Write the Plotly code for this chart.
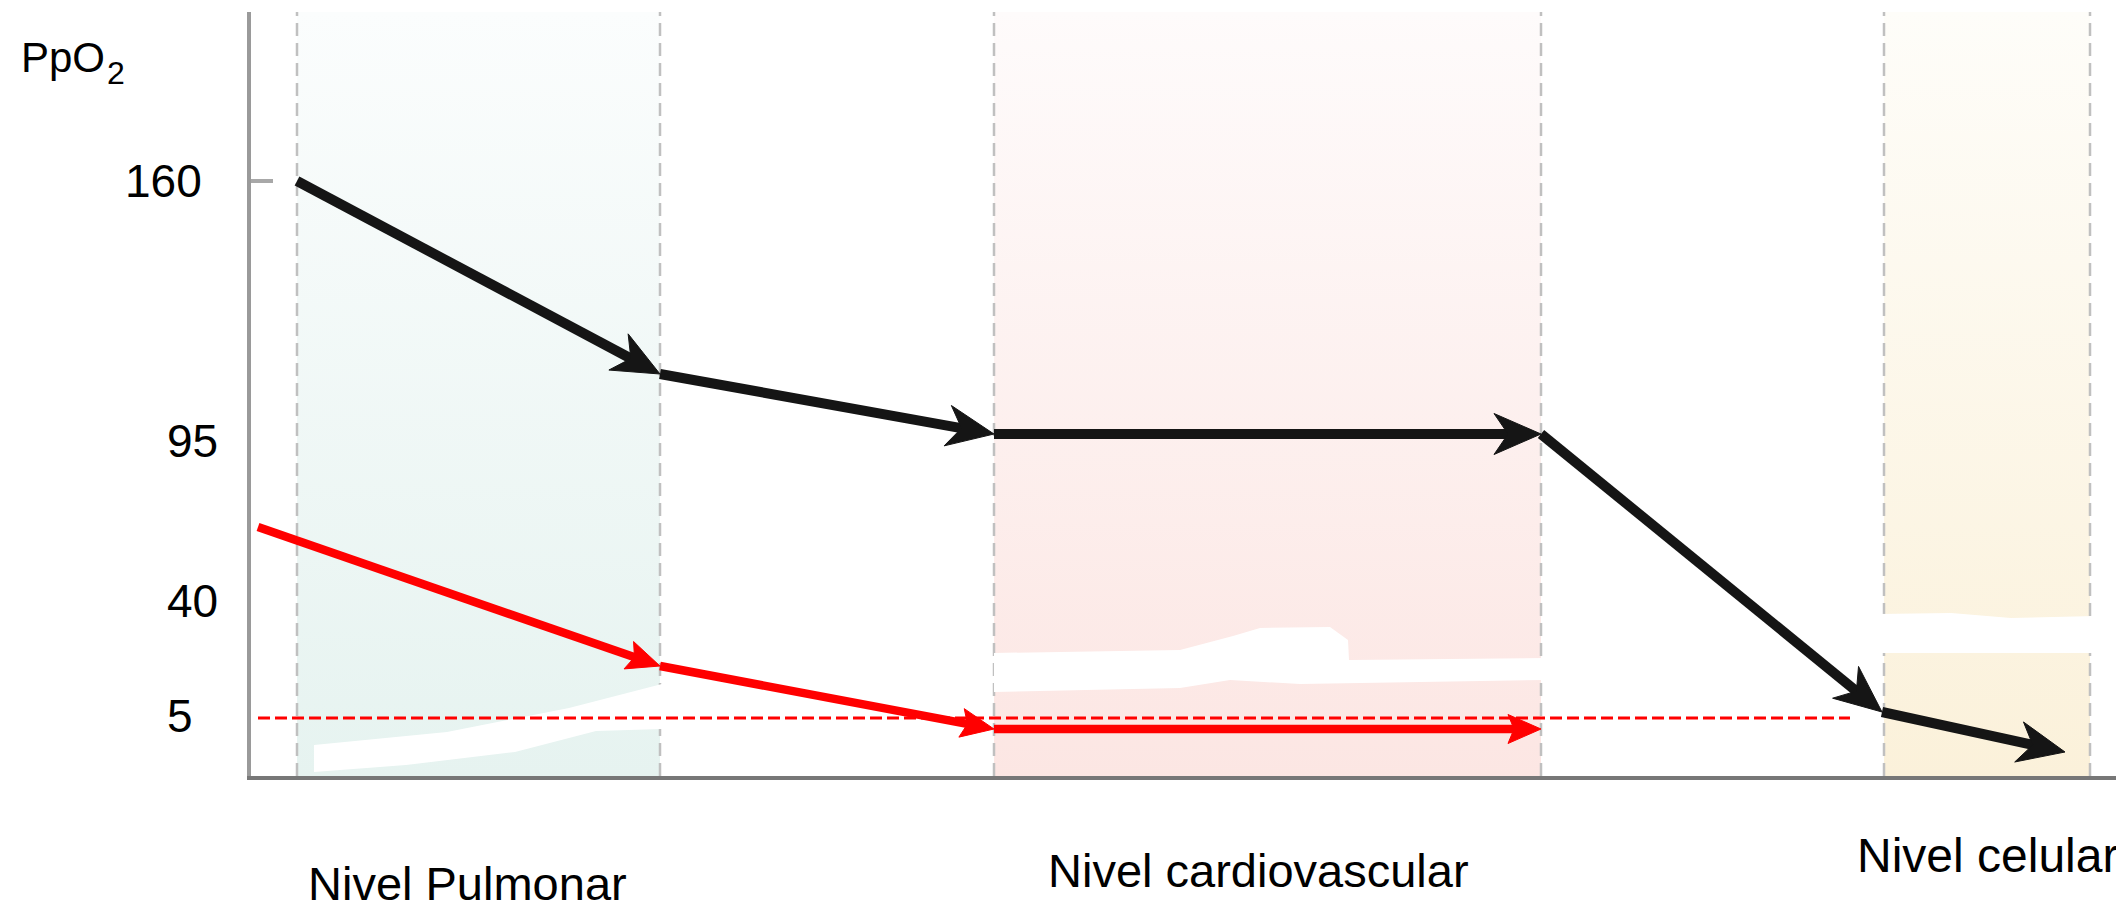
import math
import plotly.graph_objects as go

# ---------------- data (schematic diagram units) ----------------
categories = ["Nivel Pulmonar", "Nivel cardiovascular", "Nivel celular"]
band_start = [46, 743, 1633]
band_end = [409, 1290, 1839]

ppo2_labels = ["160", "95", "40", "5"]
ppo2_levels = [595, 335, 175, 60]

# black path (PpO2 of O2 along the cascade)
black_x = [46, 409, 743, 1290, 1631, 1814]
black_y = [595, 402, 342, 342, 64, 24]

# red path
red_x = [7, 409, 743, 1290]
red_y = [249, 110, 47, 47]

# red dashed reference level
ref_level = 58
ref_x = [7, 1599]

# ---------------- layout constants ----------------
# the page body has an 8px default margin, so the figure is 8px smaller
OFF = 8
W, H = 2124 - OFF, 910 - OFF
ML, MR, MT, MB = 251 - OFF, 0, 12 - OFF, 134
XR = W - ML - MR          # 1 x unit == 1 px
YR = H - MT - MB          # 1 y unit == 1 px
FONT = "Liberation Sans, Arial, sans-serif"

band_colors = [("#e6f3f0", "#fbfdfd"), ("#fce6e3", "#fefbfb"), ("#fbf1da", "#fefdf9")]

fig = go.Figure()

# bands with vertical gradient
for s, e, (cb, ct) in zip(band_start, band_end, band_colors):
    fig.add_trace(go.Scatter(
        x=[s, e, e, s, s], y=[0, 0, YR, YR, 0], mode="lines", fill="toself",
        line=dict(width=0), fillcolor=cb,
        fillgradient=dict(type="vertical", colorscale=[[0, cb], [1, ct]], start=0, stop=YR),
        hoverinfo="skip", showlegend=False))

# dashed gray band edges
for xv in band_start + band_end:
    fig.add_trace(go.Scatter(
        x=[xv, xv], y=[0, YR], mode="lines",
        line=dict(color="#c0c0c0", width=2.5, dash="13px,7px"),
        hoverinfo="skip", showlegend=False))

# white erased patches (decorative)
patches = [
    ([63, 196, 318, 409, 411, 411, 345, 264, 155, 63],
     [31, 44, 68, 92, 92, 47, 45, 24, 11, 4]),
    ([743, 929, 982, 1009, 1079, 1097, 1098, 1295, 1295, 1149, 1049, 979, 929, 743],
     [123, 126, 140, 148, 149, 136, 116, 118, 96, 94, 92, 96, 88, 84]),
    ([1628, 1700, 1760, 1845, 1845, 1628],
     [162, 163, 158, 160, 123, 123]),
]
for px, py in patches:
    fig.add_trace(go.Scatter(x=px, y=py, mode="lines", fill="toself",
                             line=dict(width=0), fillcolor="white",
                             hoverinfo="skip", showlegend=False))

# red dashed reference line
fig.add_trace(go.Scatter(
    x=ref_x, y=[ref_level, ref_level], mode="lines",
    line=dict(color="#ff0000", width=3, dash="12px,5px"),
    hoverinfo="skip", showlegend=False))


def add_arrow_path(xs, ys, color, lw, hl, hw, notch):
    """Each segment of the path drawn as a line ending in a stealth arrow head."""
    for i in range(len(xs) - 1):
        x0, y0, x1, y1 = xs[i], ys[i], xs[i + 1], ys[i + 1]
        dx, dy = x1 - x0, y1 - y0
        n = math.hypot(dx, dy)
        ux, uy = dx / n, dy / n
        nx, ny = -uy, ux
        back = hl - notch - 1
        fig.add_trace(go.Scatter(
            x=[x0, x1 - back * ux], y=[y0, y1 - back * uy], mode="lines",
            line=dict(color=color, width=lw), hoverinfo="skip", showlegend=False))
        bx, by = x1 - hl * ux, y1 - hl * uy
        kx, ky = x1 - (hl - notch) * ux, y1 - (hl - notch) * uy
        fig.add_trace(go.Scatter(
            x=[x1, bx + hw / 2 * nx, kx, bx - hw / 2 * nx, x1],
            y=[y1, by + hw / 2 * ny, ky, by - hw / 2 * ny, y1],
            mode="lines", fill="toself", fillcolor=color,
            line=dict(color=color, width=1), hoverinfo="skip", showlegend=False))


add_arrow_path(red_x, red_y, "#ff0000", 8.5, 33, 29, 6)
add_arrow_path(black_x, black_y, "#151515", 10, 47, 41, 14)

annotations = []
# y tick labels (left aligned, as in the original drawing)
label_left = [-128, -86, -86, -86]
for lab, lev, lx in zip(ppo2_labels, ppo2_levels, label_left):
    annotations.append(dict(x=lx / XR, y=lev / YR, xref="paper", yref="paper", text=lab,
                            showarrow=False, xanchor="left", yanchor="middle",
                            font=dict(family=FONT, size=46, color="black")))

# axis title PpO2 (large subscript as in the original)
annotations.append(dict(x=-232 / XR, y=718 / YR, xref="paper", yref="paper",
                        text="PpO", showarrow=False, xanchor="left", yanchor="middle",
                        font=dict(family=FONT, size=42, color="black")))
annotations.append(dict(x=-146 / XR, y=703 / YR, xref="paper", yref="paper",
                        text="2", showarrow=False, xanchor="left", yanchor="middle",
                        font=dict(family=FONT, size=32, color="black")))

# category labels
cat_x = [216, 1007, 1736]
cat_y = [-107, -94, -80]
cat_size = [47, 47, 48]
for c, cx, cy, cs in zip(categories, cat_x, cat_y, cat_size):
    annotations.append(dict(x=cx / XR, y=cy / YR, xref="paper", yref="paper", text=c,
                            showarrow=False, xanchor="center", yanchor="middle",
                            font=dict(family=FONT, size=cs, color="black")))

fig.update_layout(
    width=W, height=H, autosize=False,
    margin=dict(l=ML, r=MR, t=MT, b=MB, pad=0),
    paper_bgcolor="white", plot_bgcolor="white",
    showlegend=False,
    annotations=annotations,
    xaxis=dict(range=[0, XR], showgrid=False, zeroline=False, showticklabels=False,
               showline=True, linecolor="#777777", linewidth=4, ticks=""),
    yaxis=dict(range=[0, YR], showgrid=False, zeroline=False, showticklabels=False,
               showline=True, linecolor="#9a9a9a", linewidth=4,
               tickvals=[ppo2_levels[0]], ticks="inside", ticklen=22, tickwidth=4,
               tickcolor="#a8a8a8"),
)

fig.write_html("out.html")
